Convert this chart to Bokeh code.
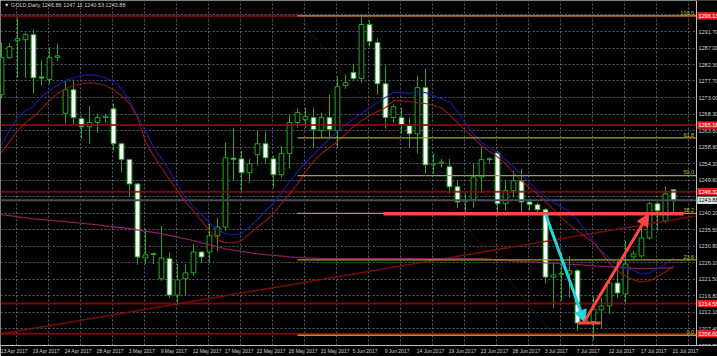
from bokeh.plotting import figure
from bokeh.models import (Range1d, FixedTicker, Arrow, NormalHead,
                          PrintfTickFormatter, ColumnDataSource)
from bokeh.core.properties import value
from bokeh.embed import file_html
from bokeh.resources import INLINE

# ---------------- data ----------------
title_text = "\u25BC GOLD,Daily  1246.86 1247.11 1240.53 1243.88"

date_labels = ["13 Apr 2017", "19 Apr 2017", "24 Apr 2017", "28 Apr 2017", "3 May 2017",
               "9 May 2017", "12 May 2017", "17 May 2017", "22 May 2017", "26 May 2017",
               "31 May 2017", "5 Jun 2017", "9 Jun 2017", "14 Jun 2017", "19 Jun 2017",
               "23 Jun 2017", "28 Jun 2017", "3 Jul 2017", "7 Jul 2017", "12 Jul 2017",
               "17 Jul 2017", "21 Jul 2017"]
date_bars = list(range(0, 85, 4))

opens = [1273.8, 1284.3, 1289.1, 1289.4, 1290.8, 1278.8, 1278.1, 1284.4, 1268.5, 1275.2,
         1267.0, 1264.7, 1265.9, 1267.3, 1269.8, 1259.9, 1255.4, 1248.5, 1227.5, 1228.5,
         1221.6, 1227.3, 1217.0, 1221.6, 1223.3, 1229.2, 1229.2, 1233.8, 1236.3, 1255.8,
         1255.6, 1251.7, 1256.8, 1259.9, 1255.6, 1251.1, 1257.1, 1265.9, 1266.7, 1267.3,
         1263.6, 1267.3, 1263.6, 1276.4, 1280.1, 1278.4, 1293.7, 1288.6, 1276.9, 1267.3,
         1267.3, 1265.0, 1262.7, 1275.8, 1253.9, 1254.4, 1253.4, 1247.7, 1243.6, 1244.0,
         1250.5, 1255.4, 1257.3, 1242.9, 1246.6, 1249.4, 1243.4, 1242.6, 1241.2, 1222.1,
         1222.9, 1223.0, 1223.9, 1209.3, 1209.5, 1212.8, 1213.9, 1220.4, 1217.3, 1227.8,
         1228.1, 1233.2, 1242.9, 1238.0, 1246.86]
highs = [1288.6, 1288.3, 1295.7, 1291.4, 1292.3, 1283.5, 1287.2, 1288.3, 1277.8, 1278.1,
         1267.6, 1270.7, 1268.4, 1268.1, 1271.3, 1260.2, 1255.6, 1248.8, 1235.8, 1229.0,
         1236.6, 1229.0, 1225.8, 1225.8, 1231.5, 1229.5, 1237.2, 1238.9, 1260.2, 1264.4,
         1257.9, 1255.6, 1263.6, 1263.3, 1256.5, 1259.3, 1268.1, 1269.8, 1270.1, 1270.1,
         1268.7, 1273.8, 1278.9, 1279.5, 1282.6, 1296.2, 1294.8, 1289.7, 1282.0, 1271.0,
         1270.1, 1267.3, 1279.2, 1281.2, 1257.1, 1255.6, 1255.6, 1249.4, 1245.7, 1254.2,
         1258.8, 1256.0, 1257.9, 1249.4, 1252.2, 1252.8, 1244.3, 1243.2, 1241.7, 1226.1,
         1229.0, 1228.1, 1224.4, 1210.5, 1216.5, 1216.2, 1221.9, 1226.7, 1232.4, 1229.5,
         1235.8, 1243.4, 1243.4, 1247.7, 1247.11]
lows = [1272.7, 1283.9, 1278.6, 1278.6, 1274.1, 1276.4, 1276.9, 1283.5, 1265.6, 1265.3,
        1261.3, 1259.9, 1263.0, 1265.9, 1257.9, 1251.7, 1245.1, 1225.6, 1225.8, 1225.8,
        1221.0, 1216.2, 1214.2, 1216.8, 1222.4, 1226.1, 1226.1, 1229.5, 1235.2, 1249.4,
        1246.0, 1248.8, 1253.7, 1254.5, 1247.4, 1250.3, 1252.8, 1264.4, 1264.4, 1258.8,
        1261.6, 1261.6, 1258.8, 1275.5, 1277.8, 1277.2, 1287.4, 1273.8, 1264.2, 1265.9,
        1262.7, 1258.8, 1257.1, 1251.4, 1251.4, 1253.1, 1245.7, 1241.7, 1240.0, 1241.7,
        1246.0, 1254.5, 1239.5, 1240.9, 1244.6, 1240.3, 1240.9, 1240.0, 1220.4, 1213.3,
        1215.3, 1216.2, 1206.8, 1208.8, 1204.3, 1207.7, 1211.6, 1216.2, 1214.5, 1227.3,
        1227.5, 1232.7, 1235.2, 1237.5, 1240.53]
closes = [1284.3, 1287.4, 1289.7, 1290.8, 1278.6, 1278.5, 1284.3, 1284.8, 1275.2, 1267.3,
          1264.7, 1265.9, 1267.3, 1267.7, 1259.9, 1255.4, 1248.5, 1227.8, 1228.4, 1228.8,
          1227.5, 1217.0, 1221.3, 1223.3, 1229.2, 1227.8, 1233.8, 1236.3, 1255.9, 1255.5,
          1251.7, 1254.2, 1259.9, 1255.9, 1251.1, 1257.1, 1265.9, 1268.7, 1267.6, 1263.9,
          1267.3, 1263.9, 1276.1, 1277.2, 1278.4, 1293.7, 1288.9, 1276.9, 1267.3, 1270.4,
          1265.3, 1262.7, 1275.8, 1253.9, 1254.2, 1254.7, 1247.7, 1243.4, 1243.9, 1250.5,
          1255.4, 1255.6, 1242.9, 1246.6, 1249.4, 1243.4, 1242.7, 1241.2, 1222.1, 1222.7,
          1223.1, 1223.9, 1209.1, 1209.8, 1213.0, 1213.9, 1220.4, 1217.6, 1225.8, 1228.7,
          1233.2, 1242.9, 1240.9, 1245.7, 1243.88]

blue_ma = [1259.6, 1263.6, 1267.3, 1269.3, 1270.4, 1273.2, 1275.0, 1276.4, 1277.8, 1278.6,
           1279.2, 1279.5, 1279.2, 1278.6, 1277.5, 1275.5, 1272.1, 1267.6, 1263.3, 1259.1,
           1255.7, 1252.2, 1248.3, 1244.6, 1242.0, 1239.8, 1237.5, 1235.5, 1234.4, 1234.1,
           1234.4, 1236.3, 1238.3, 1240.9, 1242.9, 1246.0, 1249.1, 1252.0, 1254.5, 1256.8,
           1259.1, 1261.3, 1263.6, 1265.3, 1267.0, 1268.4, 1270.1, 1271.5, 1273.0, 1274.4,
           1274.4, 1274.1, 1274.7, 1274.4, 1273.5, 1272.7, 1271.8, 1269.0, 1265.6, 1262.7,
           1260.2, 1258.8, 1257.4, 1255.4, 1253.4, 1251.1, 1248.8, 1246.6, 1244.9, 1243.4,
           1242.0, 1240.6, 1238.3, 1235.2, 1232.1, 1229.5, 1227.5, 1225.6, 1224.7, 1223.9,
           1223.0, 1223.3, 1224.4, 1225.8, 1227.5]
red_ma = [1257.4, 1260.5, 1263.6, 1265.9, 1267.6, 1269.8, 1272.1, 1274.1, 1275.5, 1276.4,
          1276.9, 1277.2, 1276.9, 1276.4, 1275.2, 1273.5, 1271.3, 1267.3, 1260.5, 1256.5,
          1253.1, 1249.7, 1246.6, 1243.4, 1240.9, 1238.0, 1235.2, 1232.7, 1231.8, 1231.8,
          1232.4, 1234.4, 1236.3, 1238.0, 1240.0, 1242.9, 1245.7, 1248.5, 1252.0, 1254.8,
          1257.1, 1258.8, 1260.5, 1262.7, 1264.7, 1266.4, 1267.9, 1269.0, 1270.1, 1272.1,
          1272.1, 1271.8, 1271.5, 1271.3, 1270.7, 1270.1, 1268.1, 1265.9, 1263.6, 1261.6,
          1259.3, 1257.6, 1256.2, 1254.2, 1251.7, 1249.4, 1247.4, 1245.7, 1243.4, 1241.2,
          1238.9, 1236.9, 1235.2, 1233.5, 1231.8, 1229.0, 1226.1, 1223.9, 1222.4, 1221.3,
          1220.7, 1221.0, 1222.2, 1223.6, 1225.3]
purple_bars = list(range(0, 85, 4))
purple_ma = [1239.8, 1238.6, 1237.8, 1236.9, 1235.8, 1234.4, 1232.4, 1230.1, 1228.7, 1227.8,
             1227.3, 1227.3, 1227.3, 1227.3, 1227.3, 1227.3, 1226.7, 1226.1, 1225.6, 1225.0,
             1224.4, 1224.7]

price_ticks = [1202.70, 1207.40, 1212.10, 1216.80, 1221.50, 1226.10, 1230.80, 1235.50,
               1240.20, 1244.90, 1249.60, 1254.20, 1258.90, 1263.60, 1268.30, 1273.00,
               1277.70, 1282.30, 1287.00, 1291.70, 1296.40]
hidden_ticks = [1244.90, 1296.40]

hline_prices = [1296.13, 1265.18, 1246.32, 1214.58, 1206.00]
bid_price = 1243.88

fib_high = 1296.13
fib_low = 1205.60
fib_ratios = [0.0, 0.236, 0.382, 0.5, 0.618, 1.0]
fib_bar_high = 37
fib_bar_low = 69

trend_p1 = (0, 1206.0)
trend_p2 = (84, 1238.4)

level_price = 1240.03
level_bars = (47.75, 85.25)
cyan_arrow = (68.0, 1240.0, 72.9, 1209.3)
red_arrow = (72.75, 1209.1, 80.9, 1240.0)
low_mark = (72.1, 74.9, 1209.1)

# ---------------- layout constants ----------------
BG = "#000000"
GREEN = "#22aa22"
FONT = "Liberation Sans"
PX_PER_BAR = 8.0
X0 = -0.125                      # left edge of chart area (bars)
AX = X0 + 696 / PX_PER_BAR       # price-scale line (bars)
XR = X0 + 717 / PX_PER_BAR       # right edge of the page (bars)

p = figure(width=717, height=356, output_backend="svg", toolbar_location=None,
           x_range=Range1d(X0, XR), y_range=Range1d(1202.7, 1300.5),
           y_axis_location="right", min_border_left=0, min_border_top=0,
           min_border_right=0, min_border_bottom=11)
p.background_fill_color = BG
p.border_fill_color = BG
p.outline_line_color = None

# price axis, drawn at the price-scale line inside the frame
yax = p.yaxis[0]
yax.fixed_location = AX
yax.ticker = FixedTicker(ticks=[t for t in price_ticks if t not in hidden_ticks])
yax.formatter = PrintfTickFormatter(format="%.2f")
yax.major_label_text_font = FONT
yax.major_label_text_font_size = "5.5px"
yax.major_label_text_color = "#d0d0d0"
yax.major_tick_out = 0
yax.major_tick_in = 0
yax.minor_tick_out = 0
yax.minor_tick_in = 0
yax.major_label_standoff = 2
yax.axis_line_color = "#bdbdbd"


def text_w(s, fs):
    wd = {c: 0.556 for c in "0123456789"}
    wd.update({" ": 0.278, "A": 0.667, "p": 0.556, "r": 0.333, "M": 0.833, "a": 0.556,
               "y": 0.5, "J": 0.5, "u": 0.556, "n": 0.556, "l": 0.222})
    return sum(wd.get(c, 0.55) for c in s) * fs


DFS = 5.0
centers = [round(b - 0.1 + text_w(d, DFS) / 2 / PX_PER_BAR, 3)
           for b, d in zip(date_bars, date_labels)]
xax = p.xaxis[0]
xax.ticker = FixedTicker(ticks=centers)
xax.major_label_overrides = {c: d for c, d in zip(centers, date_labels)}
xax.major_label_text_font = FONT
xax.major_label_text_font_size = "5px"
xax.major_label_text_color = "#d0d0d0"
xax.major_tick_out = 0
xax.major_tick_in = 0
xax.minor_tick_out = 0
xax.minor_tick_in = 0
xax.major_label_standoff = 2
xax.axis_line_color = "#bdbdbd"

# grid
p.xgrid.ticker = FixedTicker(ticks=[b + 1.875 for b in date_bars])
p.ygrid.ticker = FixedTicker(ticks=price_ticks)
for g in (p.xgrid[0], p.ygrid[0]):
    g.grid_line_color = "#566070"
    g.grid_line_dash = "2 2"
    g.grid_line_width = 1

# candles
idx = list(range(len(opens)))
src = ColumnDataSource(dict(
    x=idx, o=opens, h=highs, l=lows, c=closes,
    top=[max(o, c) for o, c in zip(opens, closes)],
    bot=[min(o, c) for o, c in zip(opens, closes)],
    fill=["#000000" if c > o else "#ffffff" for o, c in zip(opens, closes)],
))
p.segment(x0="x", y0="h", x1="x", y1="l", source=src, line_color=GREEN, line_width=1)
p.vbar(x="x", top="top", bottom="bot", width=0.6, source=src, fill_color="fill",
       line_color=GREEN, line_width=1)

# horizontal lines
for hp in hline_prices:
    p.line([X0, AX], [hp, hp], line_color="#8b0a0a", line_width=2, line_alpha=0.85)
p.line([X0, AX], [bid_price, bid_price], line_color="#4a4e56", line_width=2)

# trendline (ray through two anchors, to the price scale)
g = (trend_p2[1] - trend_p1[1]) / (trend_p2[0] - trend_p1[0])
p.line([X0, AX], [trend_p1[1] + g * (X0 - trend_p1[0]), trend_p1[1] + g * (AX - trend_p1[0])],
       line_color="#8b0a0a", line_width=1.5, line_alpha=0.9)

# moving averages
p.line(purple_bars, purple_ma, line_color="#9a1f6a", line_width=1.3, line_alpha=0.9)
p.line(idx, blue_ma, line_color="#1c1ca8", line_width=1.2, line_alpha=0.9)
p.line(idx, red_ma, line_color="#a01414", line_width=1.2, line_alpha=0.9)

# fibonacci
fib_levels = [fib_low + r * (fib_high - fib_low) for r in fib_ratios]
for r, lv in zip(fib_ratios, fib_levels):
    p.line([fib_bar_high, AX], [lv, lv], line_color="#a8a01e", line_width=1.3)
p.text(x=[AX - 0.3] * len(fib_levels), y=[lv + 0.35 for lv in fib_levels],
       text=["%.1f" % (r * 100) for r in fib_ratios], text_align="right",
       text_baseline="bottom", text_font=value(FONT), text_font_size="5.5px",
       text_color="#c8c020")
p.line([fib_bar_high, fib_bar_low], [fib_high, fib_low], line_color="#9a0f0f",
       line_width=1, line_dash="1 2")

# user drawn objects
p.segment(x0=[level_bars[0]], y0=[level_price], x1=[level_bars[1]], y1=[level_price],
          line_color="#ff4646", line_width=3.5)
p.segment(x0=[low_mark[0]], y0=[low_mark[2]], x1=[low_mark[1]], y1=[low_mark[2]],
          line_color="#ff4646", line_width=3)
p.add_layout(Arrow(end=NormalHead(size=12, fill_color="#22d4dc", line_color="#22d4dc"),
                   x_start=cyan_arrow[0], y_start=cyan_arrow[1],
                   x_end=cyan_arrow[2], y_end=cyan_arrow[3],
                   line_color="#22d4dc", line_width=3))
p.add_layout(Arrow(end=NormalHead(size=12, fill_color="#ff4646", line_color="#ff4646"),
                   x_start=red_arrow[0], y_start=red_arrow[1],
                   x_end=red_arrow[2], y_end=red_arrow[3],
                   line_color="#ff4646", line_width=3))

# black price-scale strip (hides grid beyond the scale line)
p.quad(left=[AX], right=[XR + 1], bottom=[1190], top=[1310], fill_color=BG, line_color=None)

# title
p.text(x=[0.3], y=[1299.3], text=[title_text], text_align="left", text_baseline="middle",
       text_font=value(FONT), text_font_size="5.5px", text_color="#d0d0d0")

# price boxes on the scale (drawn above the axis labels)
BOX_H = 1.05
r1 = p.quad(left=[AX + 0.1] * len(hline_prices), right=[XR + 1] * len(hline_prices),
            bottom=[hp - BOX_H for hp in hline_prices],
            top=[hp + BOX_H for hp in hline_prices], fill_color="#ee1c1c", line_color=None)
r2 = p.text(x=[AX + 0.25] * len(hline_prices), y=hline_prices,
            text=["%.2f" % hp for hp in hline_prices], text_align="left",
            text_baseline="middle", text_font=value(FONT), text_font_size="5.5px",
            text_color="#ffffff")
r3 = p.quad(left=[AX + 0.1], right=[XR + 1], bottom=[bid_price - BOX_H],
            top=[bid_price + BOX_H], fill_color="#e6e6e6", line_color=None)
r4 = p.text(x=[AX + 0.25], y=[bid_price], text=["%.2f" % bid_price], text_align="left",
            text_baseline="middle", text_font=value(FONT), text_font_size="5.5px",
            text_color="#000000")
for r in (r1, r2, r3, r4):
    r.level = "overlay"

open("out.html", "w").write(file_html(p, INLINE))
